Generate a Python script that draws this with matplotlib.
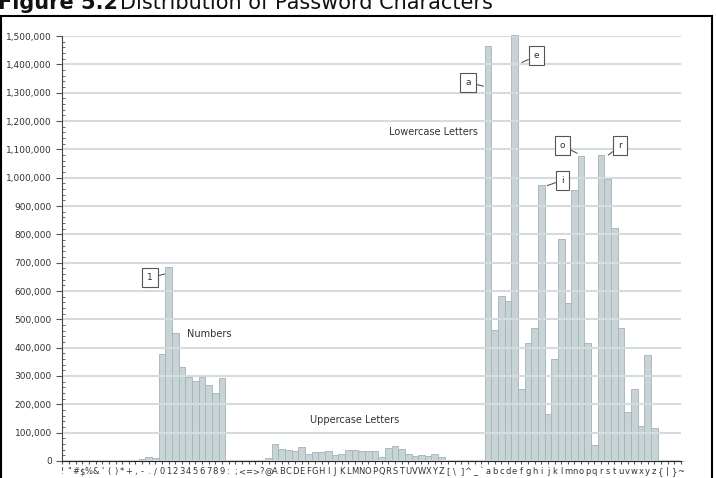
import matplotlib
matplotlib.use("Agg")
import matplotlib.pyplot as plt
from matplotlib.ticker import MultipleLocator, FuncFormatter
from matplotlib.patches import Rectangle

plt.rcParams['text.parse_math'] = False
plt.rcParams['font.family'] = ['Liberation Sans Narrow', 'DejaVu Sans']

# printable ASCII characters, '!' to '~'
chars = [chr(c) for c in range(33, 127)]

# counts, grouped in ASCII order
symbols_1 = [0, 0, 0, 0, 0, 0, 0, 3000, 0, 2500, 0, 0, 7000, 14000, 10000]     # ! .. /
digits = [378000, 684000, 453000, 331000, 298000, 283000, 298000, 269000, 239000, 293000]
symbols_2 = [0, 0, 0, 0, 0, 0, 10600]                                          # : .. @
upper = [60000, 42400, 37600, 35300, 50600, 24700, 30600, 30600, 35300, 21200,
         24700, 37600, 38800, 36500, 36500, 35300, 12900, 44700, 51800, 41200,
         24700, 16500, 22400, 17600, 23500, 15300]
symbols_3 = [0, 0, 0, 0, 3000, 0]                                              # [ .. `
lower = [1465000, 462000, 583000, 566000, 1504000, 254000, 418000, 468000, 975000, 165000,
         359000, 784000, 558000, 955000, 1077000, 415000, 56500, 1080000, 994000, 821000,
         468000, 172000, 255000, 124000, 373000, 115000]
symbols_4 = [0, 0, 0, 0]                                                       # { .. ~

counts = symbols_1 + digits + symbols_2 + upper + symbols_3 + lower + symbols_4

callouts = ['1', 'a', 'e', 'i', 'o', 'r']
groups = ['Numbers', 'Uppercase Letters', 'Lowercase Letters']

fig = plt.figure(figsize=(7.16, 4.78), dpi=100)
ax = fig.add_axes([0.087, 0.0356, 0.864, 0.889])

x = list(range(len(chars)))
ax.bar(x, counts, width=1.0, color='#c8d3d6', edgecolor='#a3b3b8', linewidth=0.6,
       clip_on=False, zorder=1)

ax.set_xlim(0, len(chars) - 1)
ax.set_ylim(0, 1500000)
ax.set_xticks(x)
ax.set_xticklabels(chars, fontsize=6, color='#333333')
ax.yaxis.set_major_locator(MultipleLocator(100000))
ax.yaxis.set_minor_locator(MultipleLocator(20000))
ax.yaxis.set_major_formatter(FuncFormatter(lambda v, p: f'{int(v):,}'))
ax.tick_params(axis='y', which='major', labelsize=6.5, labelcolor='#333333',
               length=4, width=0.8, color='#555555')
ax.tick_params(axis='y', which='minor', direction='in', length=2, width=0.6, color='#555555')
ax.tick_params(axis='x', length=2.5, width=0.8, color='#555555', pad=2)

ax.grid(axis='y', color='#d4dcdf', linewidth=1.5, zorder=2)
ax.set_axisbelow(False)
for s in ['top', 'right']:
    ax.spines[s].set_visible(False)
ax.spines['left'].set_color('#444444')
ax.spines['bottom'].set_color('#222222')
ax.spines['left'].set_zorder(3)
ax.spines['bottom'].set_zorder(3)

# callout boxes: (label position, pointer target)
box_pos = [(13.2, 647000), (61.0, 1336000), (71.3, 1430000), (75.2, 991000), (75.2, 1113000), (83.8, 1112000)]
tip_pos = [(15.4, 660000), (63.3, 1323000), (69.1, 1407000), (72.9, 972000), (77.4, 1086000), (82.1, 1080000)]
for lab, bp, tp in zip(callouts, box_pos, tip_pos):
    ax.annotate(lab, xy=tp, xytext=bp, ha='center', va='center', fontsize=6.5, color='#333333',
                bbox=dict(boxstyle='square,pad=0.55', fc='white', ec='#555555', lw=0.8),
                arrowprops=dict(arrowstyle='-', color='#555555', lw=0.8, shrinkA=0, shrinkB=0),
                zorder=5)

group_pos = [(22.1, 448000), (44.0, 145000), (55.8, 1161000)]
for g, gp in zip(groups, group_pos):
    ax.text(gp[0], gp[1], g, ha='center', va='center', fontsize=7, color='#333333')

# outer frame and title (title sits at the cut-off top edge, as in the source)
fig.patches.append(Rectangle((0.002, -0.05), 0.992, 1.0165, transform=fig.transFigure,
                             fill=False, ec='black', lw=1.5))
fig.text(-0.003, 0.981, 'Figure 5.2', fontsize=15, fontweight='bold', family='DejaVu Sans',
         va='baseline', color='#111111')
fig.text(0.168, 0.981, 'Distribution of Password Characters', fontsize=15, family='DejaVu Sans',
         va='baseline', color='#111111')

fig.savefig('out.png', dpi=100)
